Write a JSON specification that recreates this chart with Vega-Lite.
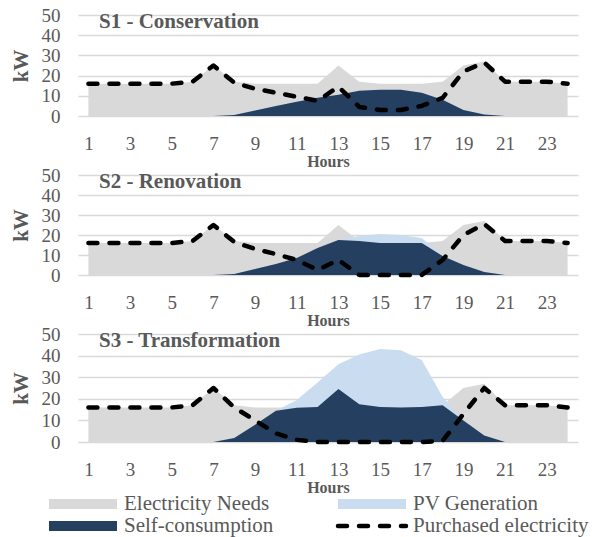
{
  "$schema": "https://vega.github.io/schema/vega-lite/v6.json",
  "padding": {"top": 6, "left": 10, "right": 5, "bottom": 2},
  "config": {
    "font": "Liberation Serif",
    "view": {"stroke": null},
    "title": {"font": "Liberation Serif", "color": "#595959", "fontWeight": "bold", "fontSize": 21},
    "axis": {"labelFont": "Liberation Serif", "titleFont": "Liberation Serif", "labelColor": "#595959", "titleColor": "#595959"},
    "axisY": {"tickCount": 6, "labelOverlap": false, "grid": true, "gridColor": "#d9d9d9", "gridWidth": 1.6, "domain": false, "ticks": false, "labelFontSize": 19, "labelPadding": 18, "titleFontSize": 21, "titleFontWeight": "bold", "titlePadding": 10},
    "axisX": {"grid": false, "domain": false, "ticks": false, "labelPadding": 18, "labelFontSize": 19, "titleFontSize": 16, "titleFontWeight": "bold", "titlePadding": 0},
    "legend": {"labelFont": "Liberation Serif", "labelColor": "#595959"}
  },
  "data": {"values": [
    {"s":"S1","h":1,"needs":16,"pv":0,"self":0,"buy":16},
    {"s":"S1","h":2,"needs":16,"pv":0,"self":0,"buy":16},
    {"s":"S1","h":3,"needs":16,"pv":0,"self":0,"buy":16},
    {"s":"S1","h":4,"needs":16,"pv":0,"self":0,"buy":16},
    {"s":"S1","h":5,"needs":16,"pv":0,"self":0,"buy":16},
    {"s":"S1","h":6,"needs":17,"pv":0,"self":0,"buy":17},
    {"s":"S1","h":7,"needs":25,"pv":0,"self":0,"buy":25},
    {"s":"S1","h":8,"needs":17,"pv":0.5,"self":0.5,"buy":16.5},
    {"s":"S1","h":9,"needs":16,"pv":2.7,"self":2.7,"buy":13.5},
    {"s":"S1","h":10,"needs":16,"pv":5,"self":5,"buy":11.5},
    {"s":"S1","h":11,"needs":16,"pv":7,"self":7,"buy":9.5},
    {"s":"S1","h":12,"needs":16,"pv":9,"self":9,"buy":7.5},
    {"s":"S1","h":13,"needs":25,"pv":10.5,"self":10.5,"buy":14.5},
    {"s":"S1","h":14,"needs":17,"pv":12.5,"self":12.5,"buy":4.5},
    {"s":"S1","h":15,"needs":16,"pv":13,"self":13,"buy":3},
    {"s":"S1","h":16,"needs":16,"pv":13,"self":13,"buy":3},
    {"s":"S1","h":17,"needs":16,"pv":11.5,"self":11.5,"buy":5},
    {"s":"S1","h":18,"needs":17,"pv":8,"self":8,"buy":9},
    {"s":"S1","h":19,"needs":25,"pv":3,"self":3,"buy":22},
    {"s":"S1","h":20,"needs":27,"pv":0.8,"self":0.8,"buy":26.5},
    {"s":"S1","h":21,"needs":17,"pv":0,"self":0,"buy":17},
    {"s":"S1","h":22,"needs":17,"pv":0,"self":0,"buy":17},
    {"s":"S1","h":23,"needs":17,"pv":0,"self":0,"buy":17},
    {"s":"S1","h":24,"needs":16,"pv":0,"self":0,"buy":16},
    {"s":"S2","h":1,"needs":16,"pv":0,"self":0,"buy":16},
    {"s":"S2","h":2,"needs":16,"pv":0,"self":0,"buy":16},
    {"s":"S2","h":3,"needs":16,"pv":0,"self":0,"buy":16},
    {"s":"S2","h":4,"needs":16,"pv":0,"self":0,"buy":16},
    {"s":"S2","h":5,"needs":16,"pv":0,"self":0,"buy":16},
    {"s":"S2","h":6,"needs":17,"pv":0,"self":0,"buy":17},
    {"s":"S2","h":7,"needs":25,"pv":0,"self":0,"buy":25},
    {"s":"S2","h":8,"needs":17,"pv":0.5,"self":0.5,"buy":16.5},
    {"s":"S2","h":9,"needs":16,"pv":3,"self":3,"buy":13},
    {"s":"S2","h":10,"needs":16,"pv":5.5,"self":5.5,"buy":10.5},
    {"s":"S2","h":11,"needs":16,"pv":8.5,"self":8.5,"buy":7.5},
    {"s":"S2","h":12,"needs":16,"pv":13.5,"self":13.5,"buy":2.5},
    {"s":"S2","h":13,"needs":25,"pv":17.5,"self":17.5,"buy":7.5},
    {"s":"S2","h":14,"needs":17,"pv":19.5,"self":17,"buy":0},
    {"s":"S2","h":15,"needs":16,"pv":20.5,"self":16,"buy":0},
    {"s":"S2","h":16,"needs":16,"pv":20,"self":16,"buy":0},
    {"s":"S2","h":17,"needs":16,"pv":18.5,"self":16,"buy":0},
    {"s":"S2","h":18,"needs":17,"pv":9.5,"self":9.5,"buy":7.5},
    {"s":"S2","h":19,"needs":25,"pv":5,"self":5,"buy":20},
    {"s":"S2","h":20,"needs":27,"pv":1.5,"self":1.5,"buy":25.5},
    {"s":"S2","h":21,"needs":17,"pv":0,"self":0,"buy":17},
    {"s":"S2","h":22,"needs":17,"pv":0,"self":0,"buy":17},
    {"s":"S2","h":23,"needs":17,"pv":0,"self":0,"buy":17},
    {"s":"S2","h":24,"needs":16,"pv":0,"self":0,"buy":16},
    {"s":"S3","h":1,"needs":16,"pv":0,"self":0,"buy":16},
    {"s":"S3","h":2,"needs":16,"pv":0,"self":0,"buy":16},
    {"s":"S3","h":3,"needs":16,"pv":0,"self":0,"buy":16},
    {"s":"S3","h":4,"needs":16,"pv":0,"self":0,"buy":16},
    {"s":"S3","h":5,"needs":16,"pv":0,"self":0,"buy":16},
    {"s":"S3","h":6,"needs":17,"pv":0,"self":0,"buy":17},
    {"s":"S3","h":7,"needs":25,"pv":0,"self":0,"buy":25},
    {"s":"S3","h":8,"needs":17,"pv":1.8,"self":1.8,"buy":16},
    {"s":"S3","h":9,"needs":16,"pv":8,"self":8,"buy":10},
    {"s":"S3","h":10,"needs":16,"pv":14.5,"self":14.5,"buy":4},
    {"s":"S3","h":11,"needs":16,"pv":19.5,"self":15.8,"buy":1},
    {"s":"S3","h":12,"needs":16,"pv":27.5,"self":16.2,"buy":0},
    {"s":"S3","h":13,"needs":25,"pv":36,"self":24.5,"buy":0},
    {"s":"S3","h":14,"needs":17,"pv":40.5,"self":17.5,"buy":0},
    {"s":"S3","h":15,"needs":16,"pv":43,"self":16.2,"buy":0},
    {"s":"S3","h":16,"needs":16,"pv":42.5,"self":16,"buy":0},
    {"s":"S3","h":17,"needs":16,"pv":38,"self":16.2,"buy":0},
    {"s":"S3","h":18,"needs":17,"pv":21,"self":17,"buy":0.5},
    {"s":"S3","h":19,"needs":25,"pv":10,"self":10,"buy":13},
    {"s":"S3","h":20,"needs":27,"pv":3,"self":3,"buy":25},
    {"s":"S3","h":21,"needs":17,"pv":0,"self":0,"buy":17},
    {"s":"S3","h":22,"needs":17,"pv":0,"self":0,"buy":17},
    {"s":"S3","h":23,"needs":17,"pv":0,"self":0,"buy":17},
    {"s":"S3","h":24,"needs":16,"pv":0,"self":0,"buy":16}
  ]},
  "resolve": {"scale": {"color": "shared"}, "legend": {"color": "shared"}},
  "spacing": -3,
  "vconcat": [
    {
      "width": 500, "height": 101,
      "title": {"text": "S1 - Conservation", "anchor": "start", "frame": "group", "offset": -26, "dx": 21},
      "transform": [{"filter": "datum.s === 'S1'"}],
      "encoding": {
        "x": {"field": "h", "type": "quantitative", "scale": {"domain": [0.5, 24.5], "nice": false, "zero": false},
              "axis": {"title": "Hours", "values": [1,3,5,7,9,11,13,15,17,19,21,23]}}
      },
      "layer": [
        {"mark": {"type": "area"}, "encoding": {
          "y": {"field": "needs", "type": "quantitative", "scale": {"domain": [0, 50], "nice": false}, "axis": {"title": "kW"}},
          "color": {"datum": "Electricity Needs", "type": "nominal",
                    "scale": {"domain": ["Electricity Needs", "PV Generation", "Self-consumption", "Purchased electricity"], "range": ["#d9d9d9", "#c9dcf0", "#243f60", "#000000"]},
                    "legend": {"title": null, "orient": "none", "legendX": -34, "legendY": 478, "direction": "horizontal", "columns": 2,
                               "labelFontSize": 21, "labelOffset": 59, "labelLimit": 300, "columnPadding": 59, "rowPadding": 0, "clipHeight": 22,
                               "symbolType": "M-1,0H11.36", "symbolSize": 121, "symbolStrokeWidth": 0,
                               "encode": {"symbols": {"update": {
                                 "fill": {"value": "transparent"},
                                 "stroke": {"signal": "scale('color', datum.value)"},
                                 "strokeWidth": {"signal": "datum.value === 'Purchased electricity' ? 4.5 : 10"},
                                 "strokeDash": {"signal": "datum.value === 'Purchased electricity' ? [9, 12] : [1, 0]"},
                                 "strokeCap": {"signal": "datum.value === 'Purchased electricity' ? 'round' : 'butt'"}
                               }}}}}
        }},
        {"mark": {"type": "area"}, "encoding": {"y": {"field": "pv", "type": "quantitative"}, "color": {"datum": "PV Generation", "type": "nominal"}}},
        {"mark": {"type": "area"}, "encoding": {"y": {"field": "self", "type": "quantitative"}, "color": {"datum": "Self-consumption", "type": "nominal"}}},
        {"mark": {"type": "line", "strokeDash": [9, 12], "strokeCap": "round", "strokeJoin": "round", "strokeWidth": 4.5}, "encoding": {"y": {"field": "buy", "type": "quantitative"}, "color": {"datum": "Purchased electricity", "type": "nominal"}}}
      ]
    },
    {
      "width": 500, "height": 100,
      "title": {"text": "S2 - Renovation", "anchor": "start", "frame": "group", "offset": -26, "dx": 21},
      "transform": [{"filter": "datum.s === 'S2'"}],
      "encoding": {
        "x": {"field": "h", "type": "quantitative", "scale": {"domain": [0.5, 24.5], "nice": false, "zero": false},
              "axis": {"title": "Hours", "values": [1,3,5,7,9,11,13,15,17,19,21,23]}}
      },
      "layer": [
        {"mark": {"type": "area"}, "encoding": {
          "y": {"field": "needs", "type": "quantitative", "scale": {"domain": [0, 50], "nice": false}, "axis": {"title": "kW"}},
          "color": {"datum": "Electricity Needs", "type": "nominal"}}},
        {"mark": {"type": "area"}, "encoding": {"y": {"field": "pv", "type": "quantitative"}, "color": {"datum": "PV Generation", "type": "nominal"}}},
        {"mark": {"type": "area"}, "encoding": {"y": {"field": "self", "type": "quantitative"}, "color": {"datum": "Self-consumption", "type": "nominal"}}},
        {"mark": {"type": "line", "strokeDash": [9, 12], "strokeCap": "round", "strokeJoin": "round", "strokeWidth": 4.5}, "encoding": {"y": {"field": "buy", "type": "quantitative"}, "color": {"datum": "Purchased electricity", "type": "nominal"}}}
      ]
    },
    {
      "width": 500, "height": 108,
      "title": {"text": "S3 - Transformation", "anchor": "start", "frame": "group", "offset": -26, "dx": 21},
      "transform": [{"filter": "datum.s === 'S3'"}],
      "encoding": {
        "x": {"field": "h", "type": "quantitative", "scale": {"domain": [0.5, 24.5], "nice": false, "zero": false},
              "axis": {"title": "Hours", "values": [1,3,5,7,9,11,13,15,17,19,21,23]}}
      },
      "layer": [
        {"mark": {"type": "area"}, "encoding": {
          "y": {"field": "needs", "type": "quantitative", "scale": {"domain": [0, 50], "nice": false}, "axis": {"title": "kW"}},
          "color": {"datum": "Electricity Needs", "type": "nominal"}}},
        {"mark": {"type": "area"}, "encoding": {"y": {"field": "pv", "type": "quantitative"}, "color": {"datum": "PV Generation", "type": "nominal"}}},
        {"mark": {"type": "area"}, "encoding": {"y": {"field": "self", "type": "quantitative"}, "color": {"datum": "Self-consumption", "type": "nominal"}}},
        {"mark": {"type": "line", "strokeDash": [9, 12], "strokeCap": "round", "strokeJoin": "round", "strokeWidth": 4.5}, "encoding": {"y": {"field": "buy", "type": "quantitative"}, "color": {"datum": "Purchased electricity", "type": "nominal"}}}
      ]
    }
  ]
}
